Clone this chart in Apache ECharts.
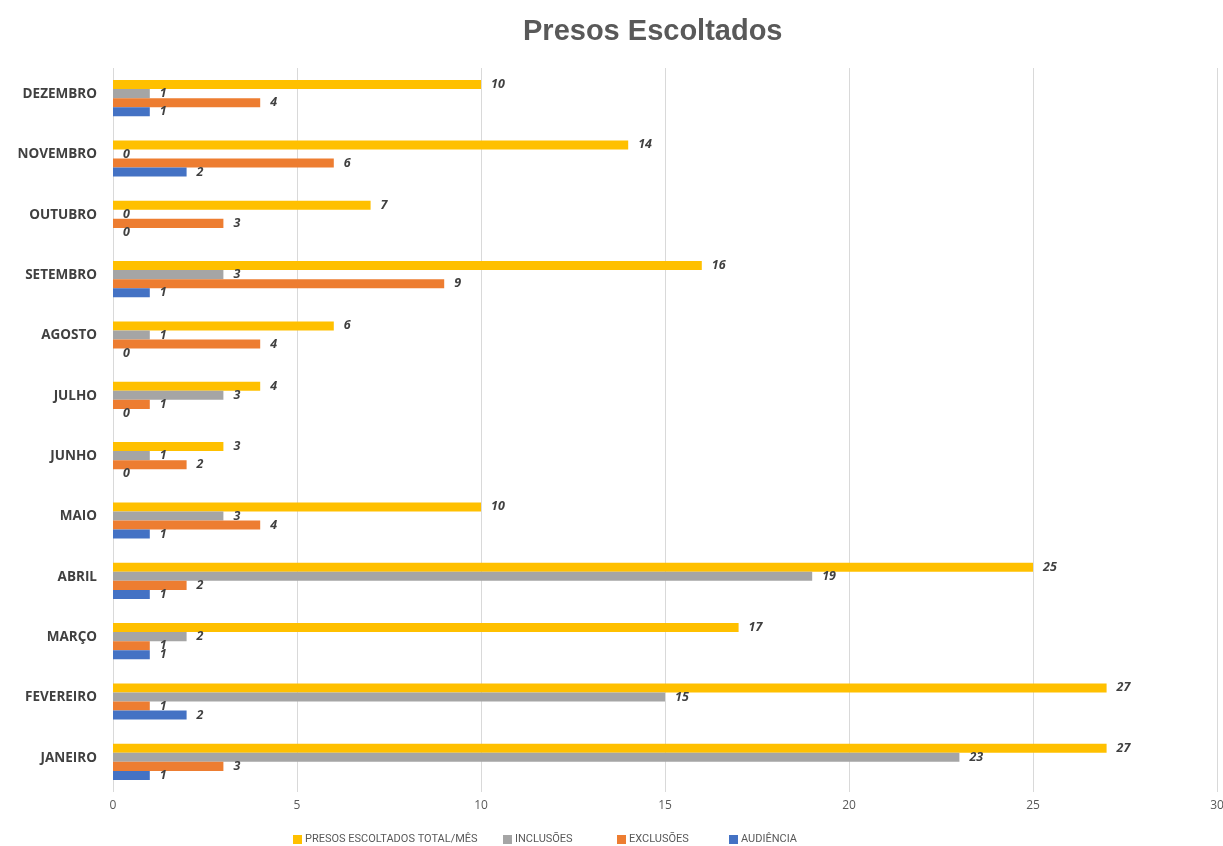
<!DOCTYPE html>
<html><head><meta charset="utf-8">
<script src="https://cdn.jsdelivr.net/npm/echarts@6/dist/echarts.min.js"></script>
<style>html,body{margin:0;padding:0;background:#fff}#c{width:1223px;height:846px}</style>
</head><body><div id="c"></div>
<script>
const months = ['JANEIRO','FEVEREIRO','MARÇO','ABRIL','MAIO','JUNHO','JULHO','AGOSTO','SETEMBRO','OUTUBRO','NOVEMBRO','DEZEMBRO'];
const audiencia = [1,2,1,1,1,0,0,0,1,0,2,1];
const exclusoes = [3,1,1,2,4,2,1,4,9,3,6,4];
const inclusoes = [23,15,2,19,3,1,3,1,3,0,0,1];
const total = [27,27,17,25,10,3,4,6,16,7,14,10];
const xTicks = [0,5,10,15,20,25,30];
const seriesNames = ['PRESOS ESCOLTADOS TOTAL/MÊS','INCLUSÕES','EXCLUSÕES','AUDIÊNCIA'];

const chart = echarts.init(document.getElementById('c'));
const lbl = {show:true, position:'right', distance:10, fontFamily:'Open Sans', fontSize:12.5, fontWeight:'bold', fontStyle:'italic', color:'#404040'};
function s(name, data, color){
  return {name, type:'bar', data, itemStyle:{color}, barGap:'0%', barCategoryGap:'40%', label:lbl, animation:false};
}
const legendLeft = [288, 498, 612, 724];
const legends = seriesNames.map((n,i)=>({top:829, left:legendLeft[i], itemWidth:9, itemHeight:9, itemGap:3, icon:'rect',
    textStyle:{fontFamily:'Roboto', fontSize:11, color:'#595959', padding:[0,0,0,-2]}, data:[n]}));
chart.setOption({
  animation:false,
  title:{text:'Presos Escoltados', left:518, top:12, textStyle:{fontFamily:'Liberation Sans', fontSize:29, fontWeight:'bold', color:'#595959'}},
  grid:{left:113, right:6, top:68, bottom:54, containLabel:false, outerBoundsMode:'none'},
  legend:legends,
  xAxis:{type:'value', min:xTicks[0], max:xTicks[xTicks.length-1], interval:5,
    axisLine:{show:false}, axisTick:{show:false},
    axisLabel:{fontFamily:'Open Sans', fontSize:12, color:'#595959', margin:8},
    splitLine:{lineStyle:{color:'#d9d9d9', width:1}}},
  yAxis:{type:'category', data:months, axisLine:{show:false}, axisTick:{show:false},
    axisLabel:{fontFamily:'Open Sans', fontSize:13.5, fontWeight:'bold', color:'#404040', margin:16,
      formatter: v => '{a|' + v + '}',
      rich:{a:{fontFamily:'Open Sans', fontSize:13.5, fontWeight:'bold', color:'#404040', padding:[0,0,8,0]}}}},
  series:[
    s(seriesNames[0], total, '#ffc000'),
    s(seriesNames[1], inclusoes, '#a5a5a5'),
    s(seriesNames[2], exclusoes, '#ed7d31'),
    s(seriesNames[3], audiencia, '#4472c4')
  ]
});
</script></body></html>
